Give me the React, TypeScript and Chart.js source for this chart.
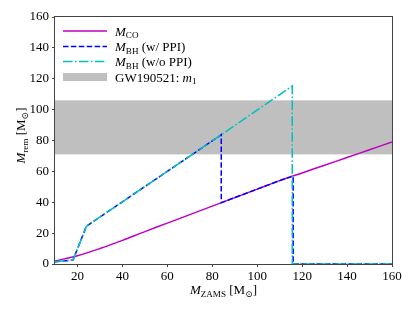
import React, { useEffect, useRef } from "react";
import { Chart, registerables } from "chart.js";
Chart.register(...registerables);

// ---- data ----
const zamsGrid = [10, 20, 30, 40, 50, 60, 70, 80, 90, 100, 110, 120, 130, 140, 150, 160];
const mcoValues = [2.0, 5.3, 10.0, 15.3, 21.0, 26.5, 32.0, 37.5, 43.0, 48.5, 54.0, 59.0, 64.0, 69.0, 74.0, 79.0];

const bhPpiZams = [10, 18, 24, 84, 84, 90, 100, 110, 116, 116, 160];
const bhPpiValues = [1.5, 2.5, 24.5, 83.7, 39.7, 43.0, 48.5, 54.0, 57.0, 0, 0];

const bhNoPpiZams = [10, 18, 24, 84, 115.6, 115.6, 160];
const bhNoPpiValues = [1.5, 2.5, 24.5, 83.7, 115.3, 0, 0];

const gwBand = [71, 106];

const xTicks = [20, 40, 60, 80, 100, 120, 140, 160];
const yTicks = [0, 20, 40, 60, 80, 100, 120, 140, 160];
const xRange = [10, 160];
const yRange = [0, 160];

const COL_CO = "#bf00bf";
const COL_PPI = "#0000ff";
const COL_NOPPI = "#00bfbf";
const COL_BAND = "#bfbfbf";
const FONT = "'Liberation Serif', 'DejaVu Serif', serif";
const FS = 13;

type Seg = { t: string; it?: boolean; sub?: boolean };

function segWidth(ctx: CanvasRenderingContext2D, segs: Seg[], size: number) {
  let w = 0;
  for (const s of segs) {
    const fs = s.sub ? size * 0.7 : size;
    ctx.font = `${s.it ? "italic " : ""}${fs}px ${FONT}`;
    w += ctx.measureText(s.t).width;
  }
  return w;
}

function drawRich(ctx: CanvasRenderingContext2D, segs: Seg[], x: number, y: number, size: number) {
  let cx = x;
  ctx.textAlign = "left";
  ctx.textBaseline = "alphabetic";
  ctx.fillStyle = "#000";
  for (const s of segs) {
    const fs = s.sub ? size * 0.7 : size;
    ctx.font = `${s.it ? "italic " : ""}${fs}px ${FONT}`;
    ctx.fillText(s.t, cx, s.sub ? y + size * 0.22 : y);
    cx += ctx.measureText(s.t).width;
  }
}

const xTitle: Seg[] = [{ t: "M", it: true }, { t: "ZAMS", sub: true }, { t: " [M" }, { t: "⊙", sub: true }, { t: "]" }];
const yTitle: Seg[] = [{ t: "M", it: true }, { t: "rem", sub: true }, { t: " [M" }, { t: "⊙", sub: true }, { t: "]" }];

const legendItems: { kind: string; color: string; dash: number[]; label: Seg[] }[] = [
  { kind: "line", color: COL_CO, dash: [], label: [{ t: "M", it: true }, { t: "CO", sub: true }] },
  { kind: "line", color: COL_PPI, dash: [5.5, 2.4], label: [{ t: "M", it: true }, { t: "BH", sub: true }, { t: " (w/ PPI)" }] },
  { kind: "line", color: COL_NOPPI, dash: [9.6, 2.4, 1.5, 2.4], label: [{ t: "M", it: true }, { t: "BH", sub: true }, { t: " (w/o PPI)" }] },
  { kind: "box", color: COL_BAND, dash: [], label: [{ t: "GW190521: " }, { t: "m", it: true }, { t: "1", sub: true }] },
];

const bandPlugin = {
  id: "band",
  beforeDatasetsDraw(chart: any) {
    const { ctx, chartArea, scales } = chart;
    const yT = scales.y.getPixelForValue(gwBand[1]);
    const yB = scales.y.getPixelForValue(gwBand[0]);
    ctx.save();
    ctx.fillStyle = COL_BAND;
    ctx.fillRect(chartArea.left, yT, chartArea.right - chartArea.left, yB - yT);
    ctx.restore();
  },
};

const decorPlugin = {
  id: "decor",
  afterDraw(chart: any) {
    const { ctx, chartArea } = chart;
    ctx.save();
    // frame
    ctx.strokeStyle = "#444";
    ctx.lineWidth = 1;
    ctx.strokeRect(chartArea.left - 0.5, chartArea.top - 0.5, chartArea.right - chartArea.left + 1, chartArea.bottom - chartArea.top + 1);
    // legend
    const lx0 = chartArea.left + 8;
    const lx1 = lx0 + 44;
    const tx = lx1 + 8;
    const rowY = [31, 46.5, 61.5, 77];
    legendItems.forEach((it, i) => {
      const y = rowY[i];
      if (it.kind === "line") {
        ctx.beginPath();
        ctx.setLineDash(it.dash);
        ctx.strokeStyle = it.color;
        ctx.lineWidth = 1.5;
        ctx.moveTo(lx0, y);
        ctx.lineTo(lx1, y);
        ctx.stroke();
        ctx.setLineDash([]);
      } else {
        ctx.fillStyle = it.color;
        ctx.fillRect(lx0, y - 4, lx1 - lx0, 8);
      }
      drawRich(ctx, it.label, tx, y + 4.5, FS);
    });
    // x title
    const cx = (chartArea.left + chartArea.right) / 2;
    const wx = segWidth(ctx, xTitle, FS);
    drawRich(ctx, xTitle, cx - wx / 2, 294, FS);
    // y title
    const cy = (chartArea.top + chartArea.bottom) / 2 - 5;
    const wy = segWidth(ctx, yTitle, FS);
    ctx.translate(25, cy);
    ctx.rotate(-Math.PI / 2);
    drawRich(ctx, yTitle, -wy / 2, 0, FS);
    ctx.restore();
  },
};

export default function App() {
  const ref = useRef<HTMLCanvasElement | null>(null);
  useEffect(() => {
    if (!ref.current) return;
    const toPts = (xs: number[], ys: number[]) => xs.map((x, i) => ({ x, y: ys[i] }));
    const chart = new Chart(ref.current, {
      type: "line",
      data: {
        datasets: [
          {
            label: "M_CO",
            data: toPts(zamsGrid, mcoValues),
            borderColor: COL_CO,
            borderWidth: 1.5,
            pointRadius: 0,
            tension: 0.3,
            order: 3,
          },
          {
            label: "M_BH (w/ PPI)",
            data: toPts(bhPpiZams, bhPpiValues),
            borderColor: COL_PPI,
            borderWidth: 1.5,
            borderDash: [5.5, 2.4],
            pointRadius: 0,
            order: 2,
          },
          {
            label: "M_BH (w/o PPI)",
            data: toPts(bhNoPpiZams, bhNoPpiValues),
            borderColor: COL_NOPPI,
            borderWidth: 1.5,
            borderDash: [9.6, 2.4, 1.5, 2.4],
            pointRadius: 0,
            order: 1,
          },
        ],
      },
      options: {
        responsive: false,
        animation: false,
        layout: { padding: { left: 0, top: 17, right: 23, bottom: 0 } },
        plugins: { legend: { display: false }, tooltip: { enabled: false } },
        scales: {
          x: {
            type: "linear",
            min: xRange[0],
            max: xRange[1],
            afterBuildTicks: (s: any) => {
              s.ticks = xTicks.map((v) => ({ value: v }));
            },
            afterFit: (s: any) => {
              s.height = 47;
            },
            grid: { display: true, drawOnChartArea: false, tickLength: 3, tickColor: "#444", color: "#444" },
            border: { display: false },
            ticks: { color: "#000", padding: 2, maxRotation: 0, autoSkip: false, font: { family: FONT, size: FS } },
          },
          y: {
            type: "linear",
            min: yRange[0],
            max: yRange[1],
            afterBuildTicks: (s: any) => {
              s.ticks = yTicks.map((v) => ({ value: v }));
            },
            afterFit: (s: any) => {
              s.width = 55;
            },
            grid: { display: true, drawOnChartArea: false, tickLength: 3, tickColor: "#444", color: "#444" },
            border: { display: false },
            ticks: { color: "#000", padding: 3, autoSkip: false, font: { family: FONT, size: FS } },
          },
        },
      },
      plugins: [bandPlugin, decorPlugin],
    } as any);
    return () => chart.destroy();
  }, []);
  return (
    <div style={{ position: "fixed", left: 0, top: 0, width: 415, height: 311, background: "#fff" }}>
      <canvas ref={ref} width={415} height={311} />
    </div>
  );
}
